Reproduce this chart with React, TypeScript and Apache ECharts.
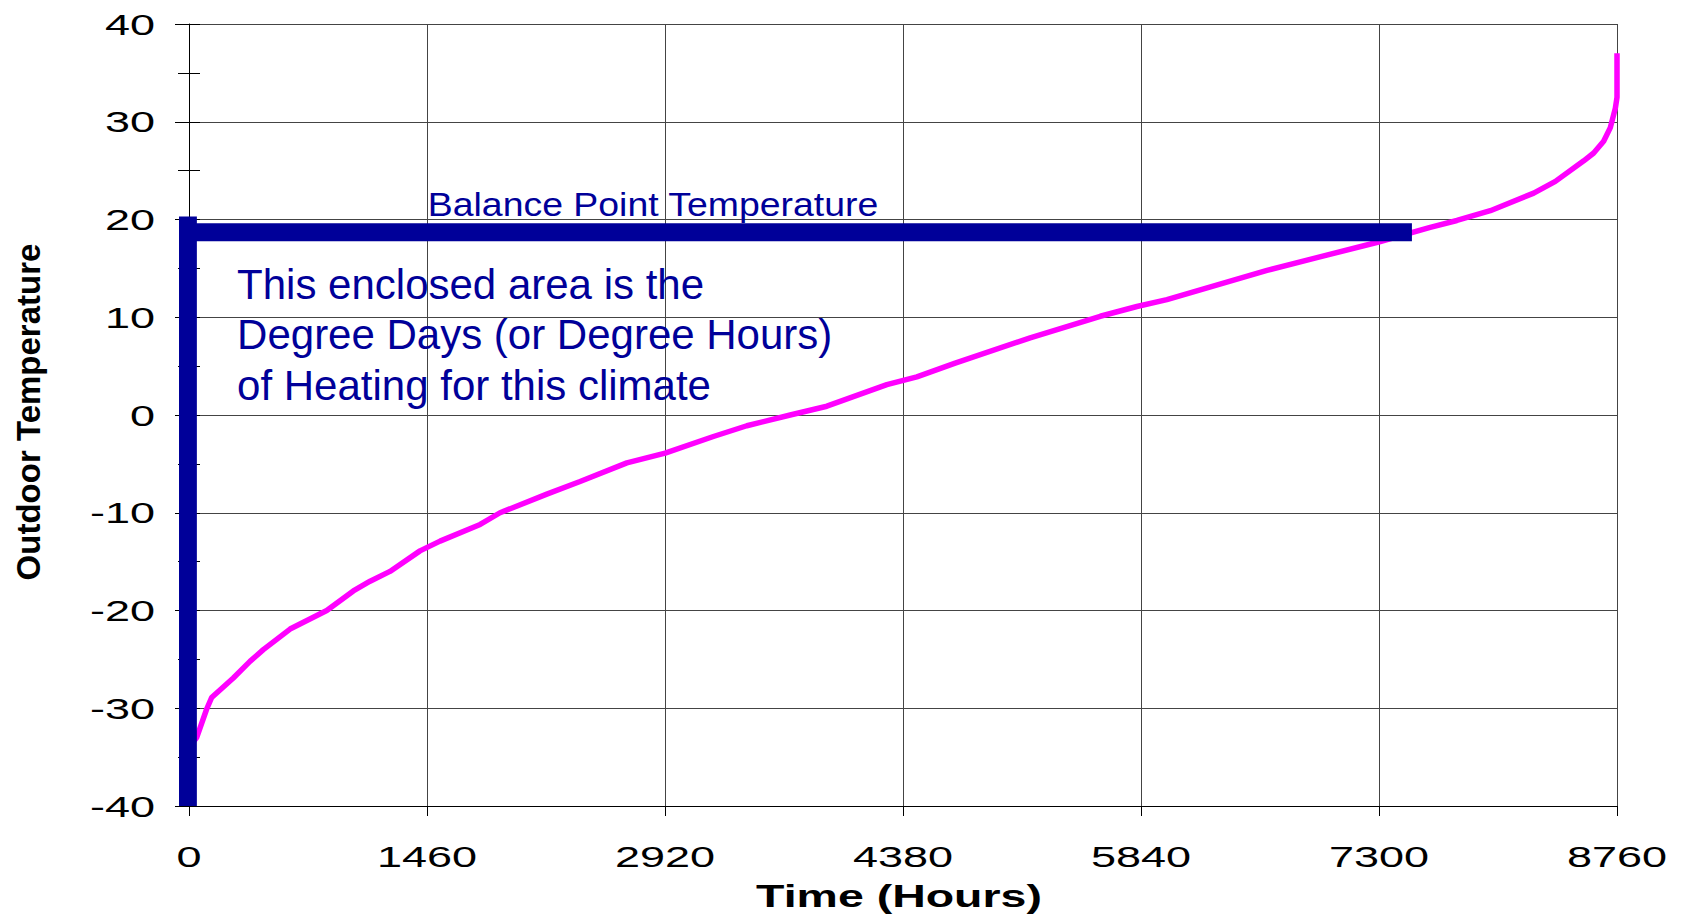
import React, { useEffect, useRef } from "react";
import * as echarts from "echarts";

// ---- data ----
const hours = [
  0, 47, 108, 139, 272, 374, 456, 620, 845, 1008, 1111, 1233, 1417, 1540, 1786, 1908,
  2195, 2399, 2686, 2921, 3217, 3422, 3688, 3913, 4281, 4465, 4700, 5160, 5590, 5815,
  5999, 6613, 6919, 7297, 7614, 7778, 7983, 8249, 8382, 8556, 8617, 8678, 8719, 8750,
  8760, 8760,
];
const temps = [
  -34, -33, -30.1, -28.9, -26.9, -25.2, -24.0, -21.9, -20.0, -18.0, -17.0, -16.0, -13.9,
  -12.9, -11.2, -10.0, -8.1, -6.8, -4.9, -3.9, -2.2, -1.1, 0, 0.9, 3.1, 3.9, 5.3, 7.9,
  10.1, 11.1, 11.8, 14.8, 16.1, 17.7, 19.2, 19.9, 20.9, 22.7, 23.9, 26.0, 26.8, 28.0,
  29.4, 31.4, 32.5, 37.0,
];
const xTicks = [0, 1460, 2920, 4380, 5840, 7300, 8760];
const yTicks = [-40, -30, -20, -10, 0, 10, 20, 30, 40];
const balanceTemp = 18.7;
const balanceEndHour = 7502;
const bandHour = -10;
const bandTop = 20.3;
const xTitle = "Time (Hours)";
const yTitle = "Outdoor Temperature";
const balanceLabel = "Balance Point Temperature";
const noteLines = [
  "This enclosed area is the",
  "Degree Days (or Degree Hours)",
  "of Heating for this climate",
];
const noteAnchorHour = 295;
const noteAnchorTemps = [13.4, 8.26, 2.97];
const balanceLabelAnchor = [1465, 21.5];

const FONT = "Liberation Sans, Arial, Helvetica, sans-serif";
const NAVY = "#000099";

export default function App() {
  const ref = useRef<HTMLDivElement>(null);

  useEffect(() => {
    if (!ref.current) return;
    const chart = echarts.init(ref.current, undefined, { renderer: "svg" });
    const curve = hours.map((h, i) => [h, temps[i]]);

    const option: any = {
      animation: false,
      backgroundColor: "#ffffff",
      textStyle: { fontFamily: FONT },
      grid: { left: 189, top: 24, width: 1428, height: 782, containLabel: false },
      xAxis: {
        type: "value",
        min: 0,
        max: 8760,
        interval: 1460,
        axisLine: { show: true, onZero: false, lineStyle: { color: "#000", width: 1 } },
        axisTick: { show: true, length: 10, lineStyle: { color: "#000" } },
        axisLabel: { show: false },
        splitLine: { show: true, lineStyle: { color: "#444", width: 1 } },
      },
      yAxis: [
        {
          type: "value",
          min: -40,
          max: 40,
          interval: 10,
          axisLine: { show: true, onZero: false, lineStyle: { color: "#000", width: 1 } },
          axisTick: { show: true, length: 14, lineStyle: { color: "#000" } },
          minorTick: { show: true, splitNumber: 2, length: 11, lineStyle: { color: "#000" } },
          axisLabel: { show: false },
          splitLine: { show: true, lineStyle: { color: "#444", width: 1 } },
        },
        {
          type: "value",
          min: -40,
          max: 40,
          interval: 10,
          position: "left",
          axisLine: { show: false, onZero: false },
          axisTick: { show: true, inside: true, length: 11, lineStyle: { color: "#000" } },
          minorTick: { show: true, splitNumber: 2, length: 11, lineStyle: { color: "#000" } },
          axisLabel: { show: false },
          splitLine: { show: false },
        },
      ],
      series: [
        {
          type: "line",
          data: curve,
          symbol: "none",
          showSymbol: false,
          clip: false,
          silent: true,
          lineStyle: { color: "#ff00ff", width: 5.5 },
          z: 2,
        },
        {
          type: "line",
          data: [
            [bandHour, -40],
            [bandHour, bandTop],
          ],
          symbol: "none",
          clip: false,
          silent: true,
          lineStyle: { color: NAVY, width: 19, cap: "butt" },
          z: 3,
        },
        {
          type: "line",
          data: [
            [0, balanceTemp],
            [balanceEndHour, balanceTemp],
          ],
          symbol: "none",
          clip: false,
          silent: true,
          lineStyle: { color: NAVY, width: 18, cap: "butt" },
          z: 3,
        },
      ],
    };
    chart.setOption(option);

    const px = (v: number) => chart.convertToPixel({ xAxisIndex: 0 }, v) as number;
    const py = (v: number) => chart.convertToPixel({ yAxisIndex: 0 }, v) as number;

    const txt = (
      text: string,
      x: number,
      y: number,
      size: number,
      align: string,
      opts: any = {}
    ) => ({
      type: "text",
      x,
      y,
      scaleX: opts.scaleX ?? 1,
      rotation: opts.rotation ?? 0,
      silent: true,
      z: 10,
      style: {
        text,
        x: 0,
        y: 0,
        fill: opts.fill ?? "#000",
        fontSize: size,
        fontFamily: FONT,
        fontWeight: opts.bold ? "bold" : "normal",
        align,
        textAlign: align,
        verticalAlign: "middle",
        textVerticalAlign: "middle",
      },
    });

    const x0 = px(0);
    const yBottom = py(-40);
    const yTop = py(40);
    const graphics: any[] = [];
    yTicks.forEach((t) => {
      graphics.push(txt(String(t), x0 - 34, py(t), 30, "right", { scaleX: 1.5 }));
    });
    xTicks.forEach((t) => {
      graphics.push(txt(String(t), px(t), yBottom + 50, 30, "center", { scaleX: 1.5 }));
    });
    graphics.push(
      txt(xTitle, px(4380) - 4, yBottom + 90, 31, "center", { scaleX: 1.5, bold: true })
    );
    graphics.push(
      txt(yTitle, 28.5, (yTop + yBottom) / 2 - 3, 33, "center", {
        bold: true,
        rotation: Math.PI / 2,
      })
    );
    graphics.push(
      txt(balanceLabel, px(balanceLabelAnchor[0]), py(balanceLabelAnchor[1]), 34, "left", {
        scaleX: 1.1,
        fill: NAVY,
      })
    );
    noteLines.forEach((line, i) => {
      graphics.push(
        txt(line, px(noteAnchorHour), py(noteAnchorTemps[i]), 42, "left", { fill: NAVY })
      );
    });
    chart.setOption({ graphic: graphics });

    return () => {
      chart.dispose();
    };
  }, []);

  return (
    <div
      ref={ref}
      style={{ position: "fixed", left: 0, top: 0, width: 1681, height: 919, background: "#fff" }}
    />
  );
}
